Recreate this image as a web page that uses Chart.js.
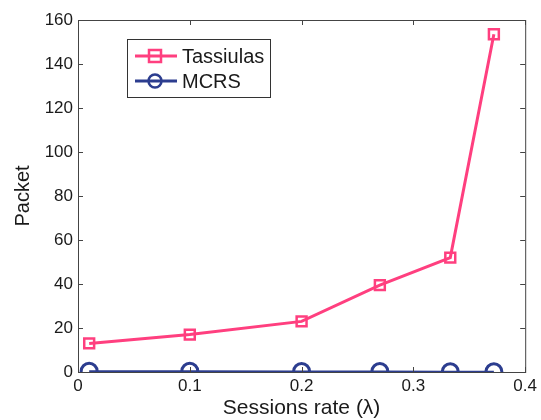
<!DOCTYPE html>
<html>
<head>
<meta charset="utf-8">
<script src="https://cdn.jsdelivr.net/npm/chart.js@4/dist/chart.umd.min.js"></script>
<style>
  html, body { margin: 0; padding: 0; background: #fff; }
  #wrap { width: 541px; height: 420px; }
</style>
</head>
<body>
<div id="wrap"><canvas id="mainChart" width="541" height="420"></canvas></div>
<script>
// Session rates on the x axis
const rates = [0.01, 0.1, 0.2, 0.27, 0.333, 0.372];
// Packets per scheme
const tassiulas = [13, 17, 23, 39.5, 52, 153.5];
const mcrs = [0.3, 0.3, 0.2, 0.2, 0.1, 0.1];

const xTicks = [0, 0.1, 0.2, 0.3, 0.4];
const yTicks = [0, 20, 40, 60, 80, 100, 120, 140, 160];

const pink = "#ff3f7f";
const blue = "#2c3d8f";
const font = "'Liberation Sans', Arial, sans-serif";

let toPoints = (ys) => rates.map((r, i) => ({ x: r, y: ys[i] }));

// Box round the plot with inward ticks on all four sides
const frame = {
  id: "frame",
  afterDatasetsDraw(chart) {
    const { ctx, chartArea: a, scales } = chart;
    ctx.save();
    ctx.strokeStyle = "#444";
    ctx.lineWidth = 1;
    ctx.strokeRect(a.left + 0.5, a.top + 0.5, a.right - a.left, a.bottom - a.top);
    ctx.beginPath();
    const t = 5;
    xTicks.forEach((v) => {
      const px = Math.round(scales.x.getPixelForValue(v)) + 0.5;
      ctx.moveTo(px, a.bottom); ctx.lineTo(px, a.bottom - t);
      ctx.moveTo(px, a.top); ctx.lineTo(px, a.top + t);
    });
    yTicks.forEach((v) => {
      const py = Math.round(scales.y.getPixelForValue(v)) + 0.5;
      ctx.moveTo(a.left, py); ctx.lineTo(a.left + t, py);
      ctx.moveTo(a.right, py); ctx.lineTo(a.right - t, py);
    });
    ctx.stroke();
    ctx.restore();
  },
};

// Legend drawn inside the plot, upper left
const boxLegend = {
  id: "boxLegend",
  afterDraw(chart) {
    const { ctx } = chart;
    const x0 = 127, y0 = 39, w = 143, h = 58;
    ctx.save();
    ctx.fillStyle = "#fff";
    ctx.fillRect(x0, y0, w, h);
    ctx.strokeStyle = "#333";
    ctx.lineWidth = 1;
    ctx.strokeRect(x0 + 0.5, y0 + 0.5, w, h);
    chart.data.datasets.forEach((ds, i) => {
      const cy = y0 + 17 + i * 25;
      ctx.strokeStyle = ds.borderColor;
      ctx.lineWidth = 3;
      ctx.beginPath();
      ctx.moveTo(x0 + 8, cy); ctx.lineTo(x0 + 50, cy);
      ctx.stroke();
      ctx.lineWidth = 2.5;
      ctx.beginPath();
      if (ds.pointStyle === "rect") {
        ctx.rect(x0 + 22, cy - 6, 12, 12);
      } else {
        ctx.arc(x0 + 28, cy, 6.5, 0, 2 * Math.PI);
      }
      ctx.stroke();
      ctx.fillStyle = "#1a1a1a";
      ctx.font = "20px " + font;
      ctx.textBaseline = "middle";
      ctx.fillText(ds.label, x0 + 55, cy + 1);
    });
    ctx.restore();
  },
};

const config = {
  type: "scatter",
  data: {
    datasets: [
      {
        label: "Tassiulas",
        data: toPoints(tassiulas),
        showLine: true,
        borderColor: pink,
        backgroundColor: "rgba(0,0,0,0)",
        borderWidth: 3,
        pointStyle: "rect",
        pointRadius: 7,
        pointBorderWidth: 2.5,
        pointBorderColor: pink,
      },
      {
        label: "MCRS",
        data: toPoints(mcrs),
        showLine: true,
        borderColor: blue,
        backgroundColor: "rgba(0,0,0,0)",
        borderWidth: 2,
        pointStyle: "circle",
        pointRadius: 8,
        pointBorderWidth: 3,
        pointBorderColor: blue,
      },
    ],
  },
  options: {
    responsive: false,
    animation: false,
    layout: { padding: { top: 20, right: 14, left: 0, bottom: 0 } },
    plugins: {
      legend: { display: false },
      tooltip: { enabled: false },
    },
    scales: {
      x: {
        type: "linear",
        min: 0,
        max: 0.4,
        afterBuildTicks: (s) => { s.ticks = xTicks.map((v) => ({ value: v })); },
        afterFit: (s) => { s.height = 48; },
        grid: { display: false, drawTicks: false },
        border: { display: false },
        ticks: {
          color: "#1a1a1a",
          font: { family: font, size: 17 },
          padding: 4,
          maxRotation: 0,
          callback: (v) => String(v),
        },
        title: {
          display: true,
          text: "Sessions rate (λ)",
          color: "#1a1a1a",
          font: { family: font, size: 21 },
          padding: { top: 0, bottom: -1 },
        },
      },
      y: {
        min: 0,
        max: 160,
        afterBuildTicks: (s) => { s.ticks = yTicks.map((v) => ({ value: v })); },
        afterFit: (s) => { s.width = 78; },
        grid: { display: false, drawTicks: false },
        border: { display: false },
        ticks: {
          color: "#1a1a1a",
          font: { family: font, size: 17 },
          padding: 5,
        },
        title: {
          display: true,
          text: "Packet",
          color: "#1a1a1a",
          font: { family: font, size: 20 },
          padding: { top: 11, bottom: 4 },
        },
      },
    },
  },
  plugins: [frame, boxLegend],
};

let mainChart = new Chart(document.getElementById("mainChart"), config);
</script>
</body>
</html>
